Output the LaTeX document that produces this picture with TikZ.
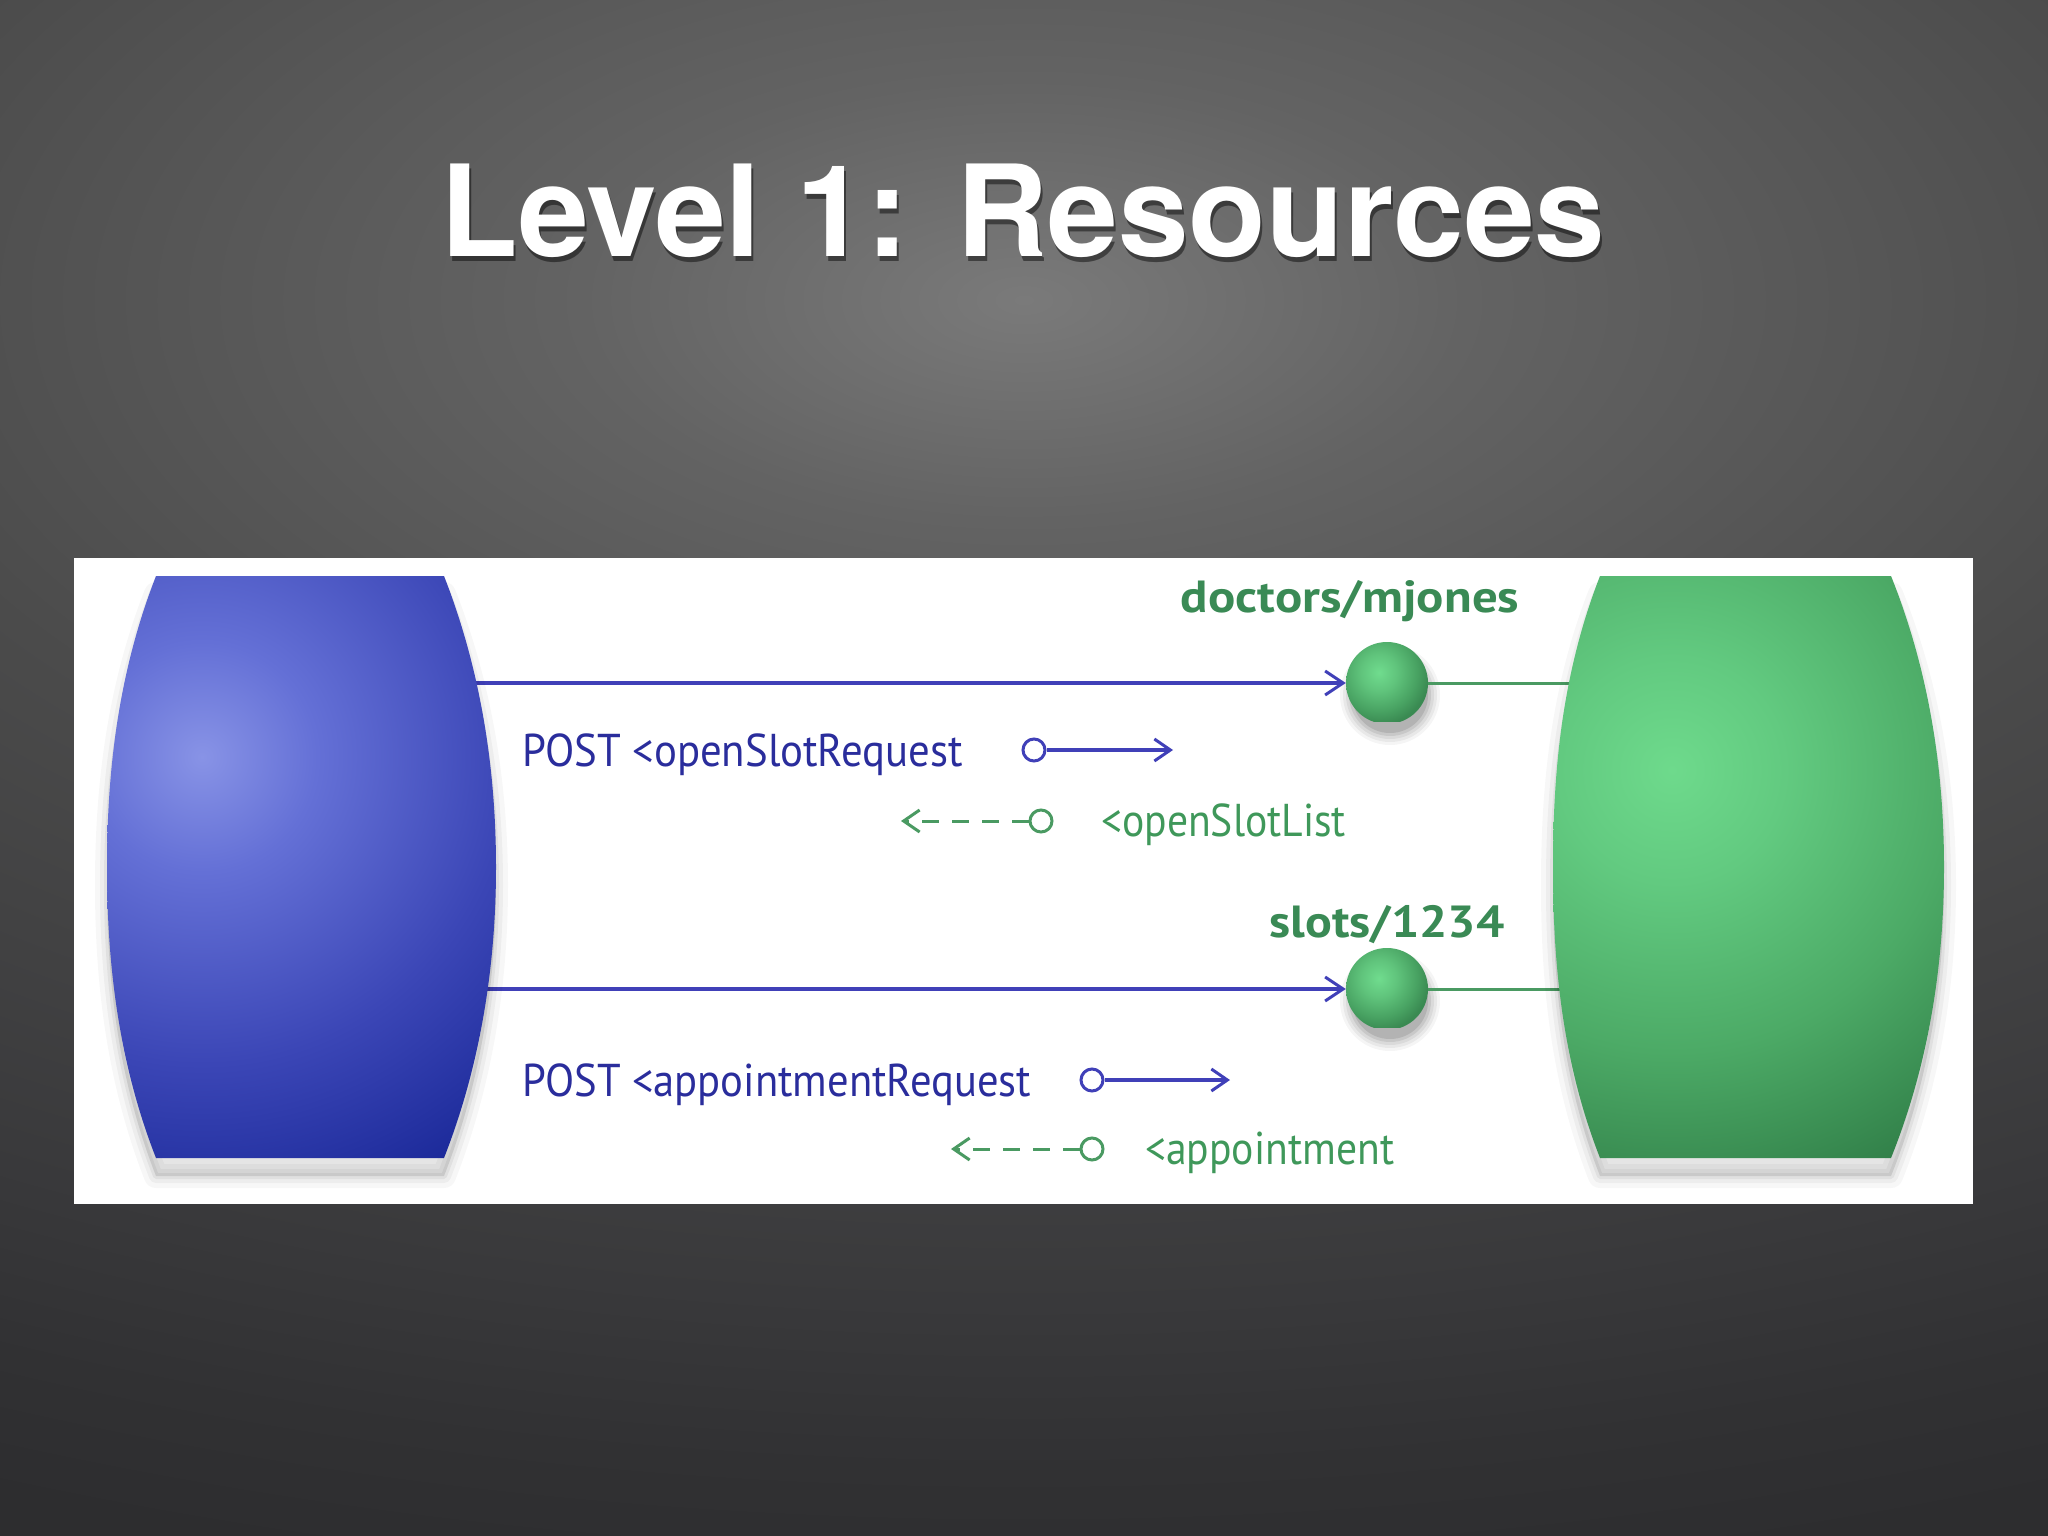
\documentclass[tikz,border=0pt]{standalone}
\usepackage{fontspec}
\usepackage{graphicx}
\setmainfont{PT Sans}
\newfontfamily\titlefont{TeX Gyre Heros}
\usetikzlibrary{arrows.meta}

\definecolor{bL}{HTML}{8893E6}
\definecolor{bM}{HTML}{6470D6}
\definecolor{bN}{HTML}{3B46B6}
\definecolor{bD}{HTML}{1A2898}
\definecolor{gL}{HTML}{6EDA8C}
\definecolor{gM}{HTML}{62CA80}
\definecolor{gN}{HTML}{4CAA66}
\definecolor{gD}{HTML}{2E7A45}
\definecolor{sL}{HTML}{70DC8E}
\definecolor{sM}{HTML}{60C47C}
\definecolor{sD}{HTML}{48A262}
\definecolor{sE}{HTML}{3A8A52}
\definecolor{k0}{HTML}{7A7A7A}
\definecolor{k1}{HTML}{636363}
\definecolor{k2}{HTML}{505050}
\definecolor{k3}{HTML}{4B4B4B}
\definecolor{k4}{HTML}{39393B}
\definecolor{k5}{HTML}{313133}
\definecolor{k6}{HTML}{2D2D2F}
\definecolor{k7}{HTML}{2B2B2D}
\definecolor{blueline}{HTML}{4040B8}
\definecolor{bluetext}{HTML}{2A2D9C}
\definecolor{greenline}{HTML}{4A9A62}
\definecolor{greentext}{HTML}{3F985A}
\definecolor{greenlabel}{HTML}{3A8A55}

\pgfdeclareradialshading{bgr}{\pgfpoint{0bp}{0bp}}{color(0bp)=(k0); color(4.25bp)=(k1); color(10bp)=(k2); color(11.5bp)=(k3); color(19.3bp)=(k4); color(22.5bp)=(k5); color(25bp)=(k6); color(30bp)=(k7); color(50bp)=(k7)}
\pgfdeclareradialshading{bluer}{\pgfpoint{0bp}{0bp}}{color(0bp)=(bL); color(6bp)=(bM); color(16bp)=(bN); color(25bp)=(bD); color(50bp)=(bD)}
\pgfdeclareradialshading{greenr}{\pgfpoint{0bp}{0bp}}{color(0bp)=(gL); color(6bp)=(gM); color(15bp)=(gN); color(25bp)=(gD); color(50bp)=(gD)}
\pgfdeclareradialshading{spher}{\pgfpoint{0bp}{0bp}}{color(0bp)=(sL); color(9bp)=(sM); color(19bp)=(sD); color(25bp)=(sE); color(50bp)=(sE)}

\def\clientshape{(156,576) -- (444,576) .. controls (484,678) and (496,780) .. (496,867)
  .. controls (496,954) and (484,1056) .. (444,1158) -- (156,1158)
  .. controls (116,1056) and (107,954) .. (107,867)
  .. controls (107,780) and (116,678) .. (156,576) -- cycle}
\def\servershape{(1600,576) -- (1891,576) .. controls (1932,678) and (1944,780) .. (1944,867)
  .. controls (1944,954) and (1932,1056) .. (1891,1158) -- (1600,1158)
  .. controls (1560,1056) and (1553,954) .. (1553,867)
  .. controls (1553,780) and (1560,678) .. (1600,576) -- cycle}

\tikzset{
  sphere/.style={circle, minimum size=82pt, inner sep=0pt,
    path picture={\shade[shading=spher] ([shift={(-58,-62)}]path picture bounding box.center) rectangle ([shift={(42,38)}]path picture bounding box.center);}},
  reqline/.style={draw=blueline, line width=3.5pt, -{Straight Barb[length=18pt,width=24pt,line width=3pt]}},
  linkline/.style={draw=greenline, line width=3pt},
  ringb/.style={circle, draw=blueline, line width=3pt, fill=white, minimum width=20pt, minimum height=22pt, inner sep=0pt},
  ringg/.style={circle, draw=greenline, line width=3pt, fill=white, minimum width=20pt, minimum height=22pt, inner sep=0pt},
  sendarrow/.style={draw=blueline, line width=3.5pt, -{Straight Barb[length=16pt,width=22pt,line width=3pt]}},
  replyarrow/.style={draw=greenline, line width=3pt, dash pattern=on 17pt off 13pt, -{Straight Barb[length=16pt,width=22pt,line width=3pt]}},
  msgtext/.style={anchor=base west, inner sep=0pt, text=bluetext, font=\fontsize{46}{50}\selectfont},
  replytext/.style={anchor=base west, inner sep=0pt, text=greentext, font=\fontsize{46}{50}\selectfont},
  reslabel/.style={anchor=base, inner sep=0pt, text=greenlabel, font=\bfseries\fontsize{45}{48}\selectfont},
  titlestyle/.style={anchor=base, inner sep=0pt, font=\titlefont\bfseries\fontsize{127}{140}\selectfont},
}

\begin{document}
\begin{tikzpicture}[x=1pt,y=-1pt]
\useasboundingbox (0,0) rectangle (2048,1536);

% background
\begin{scope}
  \clip (0,0) rectangle (2048,1536);
  \shade[shading=bgr] (-1576,-1000) rectangle (3624,1600);
\end{scope}

% title with drop shadow
\node[titlestyle, text=black, opacity=0.45] at (1025,261) {Level 1: Resources};
\node[titlestyle, text=white] (title) at (1023,256) {Level 1: Resources};

% white panel
\fill[white] (74,558) rectangle (1973,1204);

% sphere shadows and resource spheres
\coordinate (p1) at (1387,683);
\coordinate (p2) at (1387,989);
\foreach \p in {p1,p2}{
  \foreach \r/\o in {50/0.04,47/0.05,44/0.06,41/0.08,38/0.10}{
    \fill[black, opacity=\o] ([shift={(3,12)}]\p) circle (\r);
  }
}
\node[sphere] (s1) at (p1) {};
\node[sphere] (s2) at (p2) {};

% anchor points inside the two barrels
\coordinate (c1) at (470,683);
\coordinate (c2) at (480,989);
\coordinate (v1) at (1580,683);
\coordinate (v2) at (1575,989);

\draw[reqline] (c1) -- (s1.west);
\draw[reqline] (c2) -- (s2.west);
\draw[linkline] (s1.east) -- (v1);
\draw[linkline] (s2.east) -- (v2);

% barrel shadows
\begin{scope}[yshift=-18pt]
  \foreach \w/\o in {24/0.03,14/0.04,6/0.05}{
    \draw[black, opacity=\o, line width=\w pt, line join=round] \clientshape;
    \draw[black, opacity=\o, line width=\w pt, line join=round] \servershape;
  }
  \fill[black, opacity=0.1] \clientshape;
  \fill[black, opacity=0.1] \servershape;
\end{scope}

% client barrel
\begin{scope}
  \clip \clientshape;
  \shade[shading=bluer] (-278,277) rectangle (682,1237);
\end{scope}
% server barrel
\begin{scope}
  \clip \servershape;
  \shade[shading=greenr] (1202,300) rectangle (2142,1240);
\end{scope}

% labels
\node[reslabel] (l1) at (1350,612) {\scalebox{1.13}[1]{doctors/mjones}};
\node[reslabel] (l2) at (1387,937) {\scalebox{1.11}[1]{slots/1234}};

% first exchange
\node[msgtext] (m1) at (522,766) {\scalebox{0.93}[1]{POST <openSlotRequest}};
\node[ringb] (o1) at (1034,750) {};
\coordinate (t1) at (1173,750);
\draw[sendarrow] (o1.east) -- (t1);
\node[ringg] (o2) at (1041,821) {};
\coordinate (t2) at (901,821);
\draw[replyarrow] (o2.west) -- (t2);
\node[replytext] (r1) at (1101,836) {\scalebox{0.905}[1]{<openSlotList}};

% second exchange
\node[msgtext] (m2) at (522,1096) {\scalebox{0.926}[1]{POST <appointmentRequest}};
\node[ringb] (o3) at (1092,1080) {};
\coordinate (t3) at (1230,1080);
\draw[sendarrow] (o3.east) -- (t3);
\node[ringg] (o4) at (1092,1149) {};
\coordinate (t4) at (951,1149);
\draw[replyarrow] (o4.west) -- (t4);
\node[replytext] (r2) at (1145,1164) {\scalebox{0.905}[1]{<appointment}};
\end{tikzpicture}
\end{document}
